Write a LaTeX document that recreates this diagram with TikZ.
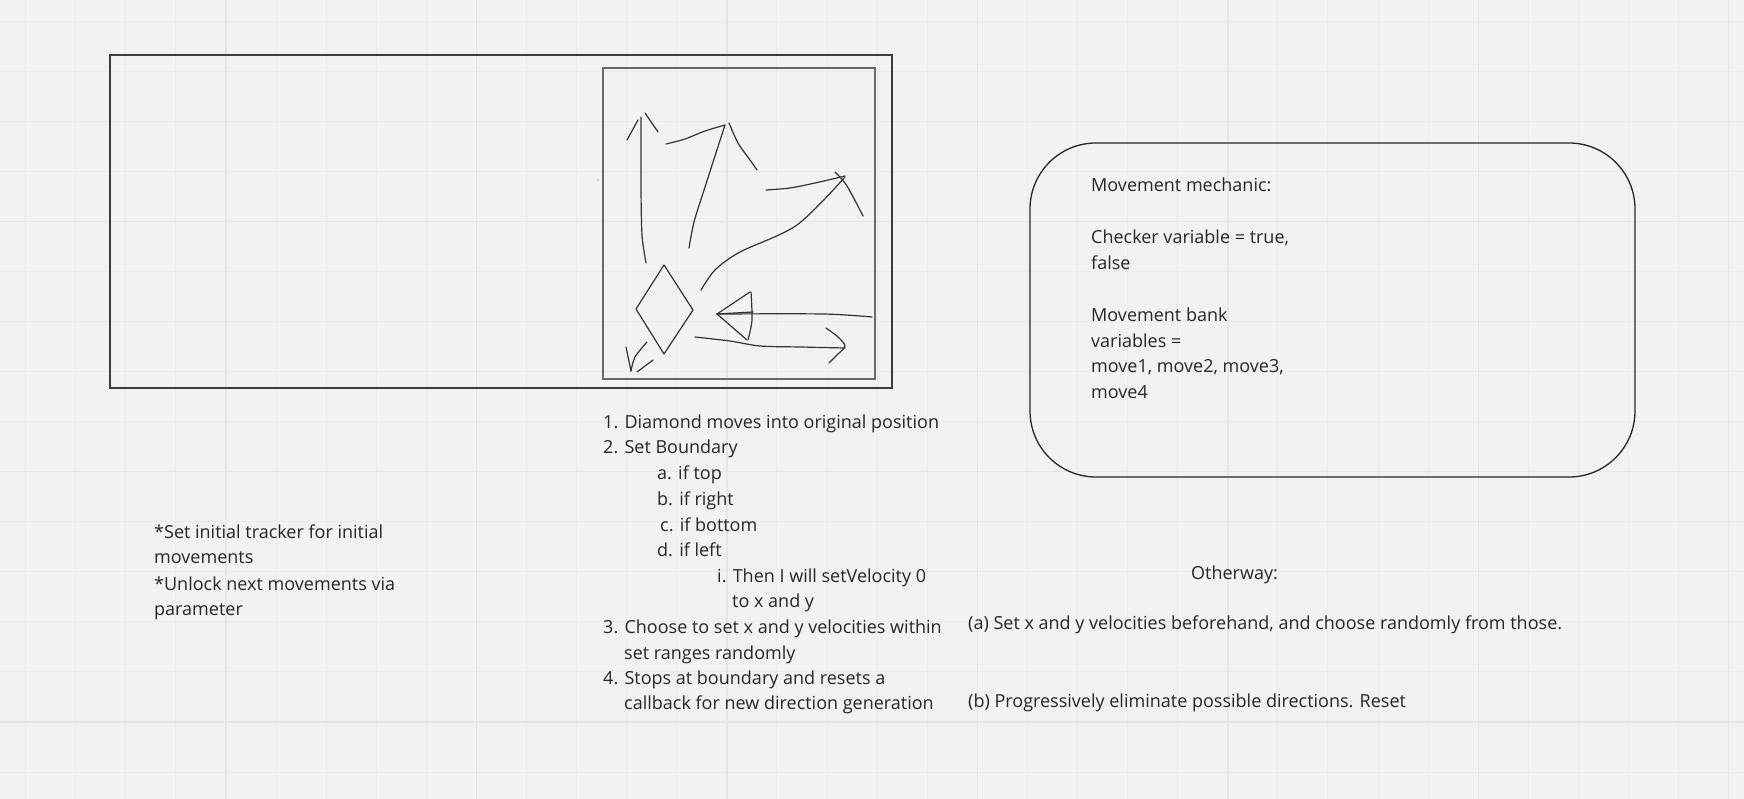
\documentclass[tikz,border=0pt]{standalone}
\usepackage{fontspec}
\setmainfont{Open Sans}
\definecolor{bg}{HTML}{F2F2F2}
\definecolor{gridminor}{HTML}{ECECEC}
\definecolor{gridmajor}{HTML}{E6E6E6}
\definecolor{ink}{HTML}{262626}
\definecolor{sketch}{HTML}{333333}
\definecolor{frame}{HTML}{3C3C3C}
\definecolor{inner}{HTML}{6A6A6A}
\begin{document}
\begin{tikzpicture}[x=1pt,y=-1pt,
  sk/.style={draw=sketch, line width=1.2pt, line cap=round, line join=round},
  txt/.style={anchor=base west, inner sep=0pt, text=ink, font=\fontsize{18}{25.6}\selectfont}]
\fill[bg] (0,0) rectangle (1744,799);
\useasboundingbox (0,0) rectangle (1744,799);
% grid
\foreach \i in {0,...,34} \draw[gridminor, line width=1pt] ({25.6+50.09*\i},0) -- ({25.6+50.09*\i},799);
\foreach \i in {0,...,15} \draw[gridminor, line width=1pt] (0,{21.3+50.05*\i}) -- (1744,{21.3+50.05*\i});
\foreach \i in {0,...,6} \draw[gridmajor, line width=1.5pt] ({226+250.45*\i},0) -- ({226+250.45*\i},799);
\foreach \y in {221.5,471.7,722} \draw[gridmajor, line width=1.5pt] (0,\y) -- (1744,\y);
% frames
\draw[frame, line width=1.5pt] (110,55) rectangle (892,388);
\draw[inner, line width=2pt] (603,68) rectangle (875,379);
\fill[black!20] (598,180) circle (1.3);
\draw[ink, line width=1.3pt, rounded corners=66pt] (1030,143) rectangle (1635,477);
% sketch strokes
\draw[sk] plot[smooth] coordinates {(646,263) (642,235) (641,188) (641,117)};
\draw[sk] (627,140) -- (638,120);
\draw[sk] (645,113) -- (658,132);
\draw[sk] plot[smooth] coordinates {(689,248) (694,222) (705,187) (725,125)};
\draw[sk] plot[smooth] coordinates {(666,144) (685,139) (705,131) (725,125)};
\draw[sk] plot[smooth] coordinates {(729,123) (738,143) (750,160) (757,170)};
\draw[sk] plot[smooth] coordinates {(701,290) (715,270) (740,252) (797,225) (845,177)};
\draw[sk] plot[smooth] coordinates {(766,190) (790,188) (815,183) (845,176)};
\draw[sk] plot[smooth] coordinates {(835,172) (847,186) (863,216)};
\draw[sk] (664,265) -- (693,310) -- (664,354) -- (636,309) -- cycle;
\draw[sk] plot[smooth] coordinates {(872,317) (823,314) (717,314)};
\draw[sk] (717,314) -- (753,312);
\draw[sk] (717,314) -- (750,292);
\draw[sk] (717,314) -- (747,340);
\draw[sk] plot[smooth] coordinates {(751,292) (752,320) (748,340)};
\draw[sk] plot[smooth] coordinates {(695,337) (730,341) (760,346) (800,347) (845,348)};
\draw[sk] plot[smooth] coordinates {(826,328) (838,337) (845,346) (837,355) (829,363)};
\draw[sk] (626,347) -- (631,371);
\draw[sk] plot[smooth] coordinates {(631,371) (635,357) (647,342)};
\draw[sk] (637,372) -- (653,360);
% list
\node[txt] (l1) at (603,428) {1. Diamond moves into original position};
\node[txt] (l2) at (603,453) {2. Set Boundary};
\node[txt] (l2a) at (657,479) {a. if top};
\node[txt] (l2b) at (657,505) {b. if right};
\node[txt] (l2c) at (660,531) {c. if bottom};
\node[txt] (l2d) at (657,556) {d. if left};
\node[txt] (l2i) at (717,582) {i. Then I will setVelocity 0};
\node[txt] (l2ib) at (732,607) {to x and y};
\node[txt] (l3) at (603,633) {3. Choose to set x and y velocities within};
\node[txt] (l3b) at (624,659) {set ranges randomly};
\node[txt] (l4) at (603,684) {4. Stops at boundary and resets a};
\node[txt] (l4b) at (624,709) {callback for new direction generation};
% box text
\node[txt] (m1) at (1091,192) {Movement mechanic:};
\node[txt] (m2) at (1091,244) {Checker variable = true,};
\node[txt] (m3) at (1091,270) {false};
\node[txt] (m4) at (1091,321) {Movement bank};
\node[txt] (m5) at (1091,347) {variables =};
\node[txt] (m6) at (1091,372) {move1, move2, move3,};
\node[txt] (m7) at (1091,398) {move4};
% otherway
\node[txt] (o1) at (1191,579) {Otherway:};
\node[txt] (o2) at (968,629) {(a) Set x and y velocities beforehand, and choose randomly from those.};
\node[txt] (o3) at (968,707) {(b) Progressively eliminate possible directions. Reset};
% left notes
\node[txt] (n1) at (154,538) {*Set initial tracker for initial};
\node[txt] (n2) at (154,563) {movements};
\node[txt] (n3) at (154,590) {*Unlock next movements via};
\node[txt] (n4) at (154,615) {parameter};
\end{tikzpicture}
\end{document}
